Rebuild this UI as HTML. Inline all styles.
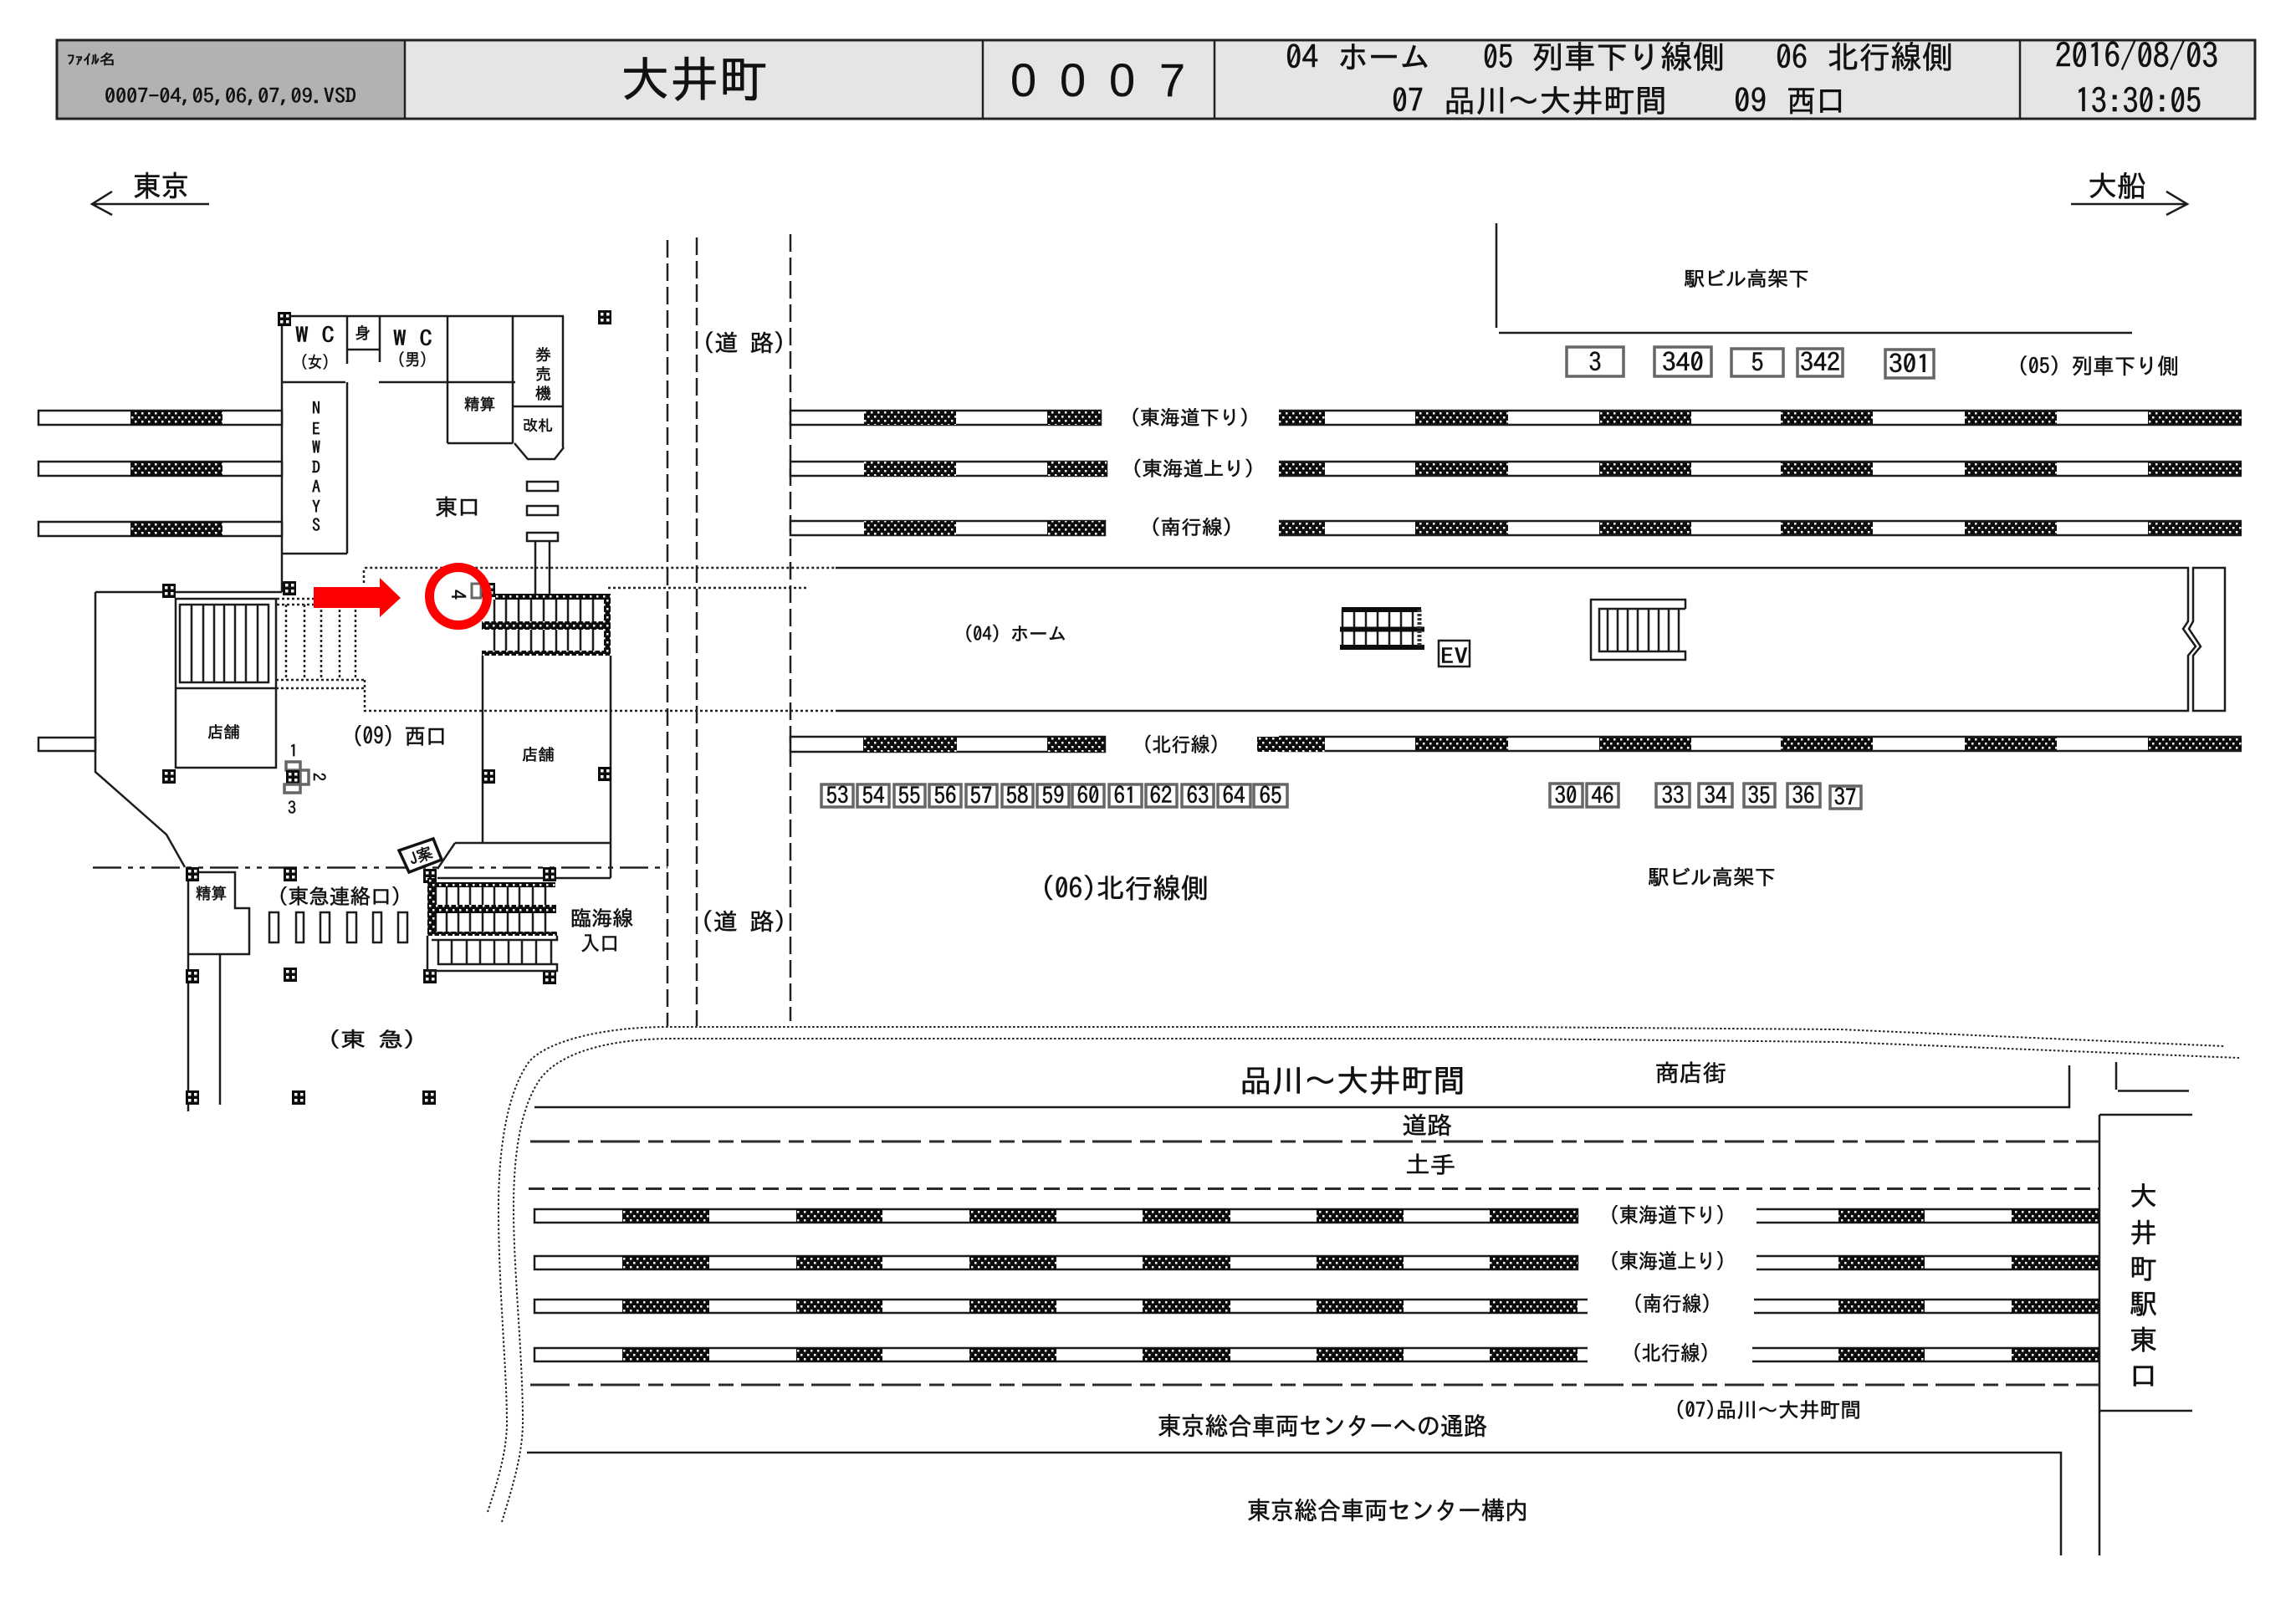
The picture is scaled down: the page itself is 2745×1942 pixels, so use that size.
<!DOCTYPE html>
<html lang="ja"><head><meta charset="utf-8"><title>大井町 0007</title>
<style>
html,body{margin:0;padding:0;background:#fff}
svg{display:block}
text{font-family:"IPAGothic","Liberation Sans","Noto Sans CJK JP",sans-serif;fill:#111;stroke:#111;stroke-width:.55}
.l{fill:none;stroke:#1c1c1c;stroke-width:2.5}
.w{fill:#fff;stroke:#1c1c1c;stroke-width:2.5}
.g{fill:#fff;stroke:#666;stroke-width:3.5}
.d{fill:none;stroke:#222;stroke-width:2.5;stroke-dasharray:3 3}
.c{fill:none;stroke:#222;stroke-width:2;stroke-dasharray:2.5 2.5}
.r{fill:none;stroke:#222;stroke-width:2.5;stroke-dasharray:21 7}
.ls{fill:none;stroke:#2a2a2a;stroke-width:3;stroke-dasharray:47 10 18 9}
.sd{fill:none;stroke:#2a2a2a;stroke-width:3;stroke-dasharray:19 9}
.dd{fill:none;stroke:#222;stroke-width:2.5;stroke-dasharray:34 8 6 8 6 8}
.h{fill:url(#hp)}
</style></head><body>
<svg xmlns="http://www.w3.org/2000/svg" width="2745" height="1942" viewBox="0 0 2745 1942">
<defs>
<pattern id="hp" width="8" height="10" patternUnits="userSpaceOnUse"><rect width="8" height="10" fill="#0c0c0c"/><rect x="1" y="2" width="2.5" height="2.5" fill="#fff"/><rect x="5" y="7" width="2.5" height="2.5" fill="#fff"/></pattern>
<g id="c"><rect width="16" height="17" fill="#0c0c0c"/><rect x="3" y="3" width="3.5" height="3.5" fill="#fff"/><rect x="10" y="3" width="3.5" height="3.5" fill="#fff"/><rect x="3" y="10" width="3.5" height="3.5" fill="#fff"/><rect x="10" y="10" width="3.5" height="3.5" fill="#fff"/></g>
<g id="tl"><rect x="46" y="0" width="291" height="17" class="w"/><rect x="156" y="0" width="110" height="17" class="h"/></g>
<g id="tr"><path class="h" d="M1529 0h55v17h-55zM1692 0h111v17h-111zM1912 0h110v17h-110zM2129 0h110v17h-110zM2349 0h110v17h-110zM2568 0h112v17h-112z"/><path class="l" d="M1529 0H2680M1529 17H2680"/></g>
<g id="lt"><rect x="639" y="0" width="1247" height="16" class="w"/><path class="h" d="M744 0h104v16h-104zM952 0h103v16h-103zM1159 0h104v16h-104zM1366 0h105v16h-105zM1574 0h104v16h-104zM1781 0h105v16h-105z"/></g>
<g id="rt"><path class="l" d="M2100 0H2510M2100 16H2510"/><path class="h" d="M2198 0h103v16h-103zM2405 0h104v16h-104z"/></g>
</defs>
<rect width="2745" height="1942" fill="#fff"/>

<!-- header -->
<rect x="68" y="48" width="416" height="94" fill="#b2b2b2"/>
<rect x="484" y="48" width="2212" height="94" fill="#e5e5e5"/>
<path d="M68 48H2696V142H68Z" fill="none" stroke="#222" stroke-width="3"/>
<path d="M484 48V142M1175 48V142M1452 48V142M2415 48V142" stroke="#222" stroke-width="2.5"/>
<text x="80" y="77" font-size="17" textLength="58" lengthAdjust="spacingAndGlyphs">ﾌｧｲﾙ名</text>
<text x="125" y="123" font-size="24" textLength="301" lengthAdjust="spacingAndGlyphs">0007-04,05,06,07,09.VSD</text>
<text x="742" y="116" font-size="59" textLength="176" lengthAdjust="spacingAndGlyphs" stroke-width="1">大井町</text>
<text x="1208 1267 1326 1386" y="115" font-size="56" style="font-family:'Liberation Sans',sans-serif;stroke-width:.2">0007</text>
<text x="1537" y="82" font-size="38" textLength="39" lengthAdjust="spacingAndGlyphs">04</text>
<text x="1599" y="82" font-size="38" textLength="111" lengthAdjust="spacingAndGlyphs">ホーム</text>
<text x="1773" y="82" font-size="38" textLength="36" lengthAdjust="spacingAndGlyphs">05</text>
<text x="1831" y="82" font-size="38" textLength="231" lengthAdjust="spacingAndGlyphs">列車下り線側</text>
<text x="2123" y="82" font-size="38" textLength="38" lengthAdjust="spacingAndGlyphs">06</text>
<text x="2185" y="82" font-size="38" textLength="150" lengthAdjust="spacingAndGlyphs">北行線側</text>
<text x="1664" y="134" font-size="38" textLength="38" lengthAdjust="spacingAndGlyphs">07</text>
<text x="1726" y="134" font-size="38" textLength="267" lengthAdjust="spacingAndGlyphs">品川～大井町間</text>
<text x="2073" y="134" font-size="38" textLength="39" lengthAdjust="spacingAndGlyphs">09</text>
<text x="2136" y="134" font-size="38" textLength="70" lengthAdjust="spacingAndGlyphs">西口</text>
<text x="2457" y="81" font-size="40" textLength="195" lengthAdjust="spacingAndGlyphs">2016/08/03</text>
<text x="2481" y="135" font-size="40" textLength="151" lengthAdjust="spacingAndGlyphs">13:30:05</text>

<!-- direction arrows -->
<path class="l" d="M250 244H110M134 229L110 244L134 257"/>
<path class="l" d="M2476 244H2615M2590 229L2615 244L2590 257"/>
<text x="159" y="235" font-size="35" textLength="67" lengthAdjust="spacingAndGlyphs">東京</text>
<text x="2496" y="235" font-size="35" textLength="70" lengthAdjust="spacingAndGlyphs">大船</text>

<!-- road dashes -->
<path class="r" d="M798 287V1227M833 284V1227M945 280V1221"/>
<text x="840" y="420" font-size="28" textLength="99" lengthAdjust="spacingAndGlyphs">(道 路)</text>
<text x="838" y="1112" font-size="28" textLength="102" lengthAdjust="spacingAndGlyphs">(道 路)</text>

<!-- station building east -->
<path class="l" d="M337 378H674M337 378V708M415 378V435M454 378V433M415 418H454M535 378V530M613 378V530M673 378V535M337 457H413M453 457H616M415 457V662M337 662H415M613 486H673M535 530H613M615 530L631 549H663L674 535"/>
<rect x="630" y="576" width="37" height="11" class="w"/>
<rect x="630" y="605" width="37" height="11" class="w"/>
<rect x="630" y="637" width="37" height="10" class="w"/>
<path class="l" d="M640 647V710M657 647V710"/>
<use href="#c" x="332" y="373"/><use href="#c" x="715" y="371"/>
<text x="353" y="410" font-size="26" textLength="47" lengthAdjust="spacingAndGlyphs">W C</text>
<text x="359" y="440" font-size="20" textLength="35" lengthAdjust="spacingAndGlyphs">(女)</text>
<text x="424" y="405" font-size="19">身</text>
<text x="470" y="414" font-size="26" textLength="47" lengthAdjust="spacingAndGlyphs">W C</text>
<text x="475" y="437" font-size="20" textLength="36" lengthAdjust="spacingAndGlyphs">(男)</text>
<text x="640" y="431" font-size="19">券</text><text x="640" y="454" font-size="19">売</text><text x="640" y="477" font-size="19">機</text>
<text x="555" y="490" font-size="19" textLength="37" lengthAdjust="spacingAndGlyphs">精算</text>
<text x="625" y="515" font-size="18" textLength="36" lengthAdjust="spacingAndGlyphs">改札</text>
<text x="520" y="616" font-size="27" textLength="54" lengthAdjust="spacingAndGlyphs">東口</text>
<g font-size="20" text-anchor="middle"><text x="378" y="495">N</text><text x="378" y="520">E</text><text x="378" y="542">W</text><text x="378" y="566">D</text><text x="378" y="589">A</text><text x="378" y="613">Y</text><text x="378" y="635">S</text></g>

<!-- left stub tracks -->
<use href="#tl" y="491"/><use href="#tl" y="552"/><use href="#tl" y="624"/>
<rect x="46" y="882" width="68" height="16" class="w"/>

<!-- west station outline -->
<path class="l" d="M114 708H337M114 708V923L199 998L221 1037"/>
<use href="#c" x="194" y="698"/><use href="#c" x="338" y="695"/>
<path class="l" d="M210 716H330V823H210ZM210 823V918H330V823"/>
<rect x="215" y="723" width="106" height="93" class="w"/>
<path class="l" stroke-width="2" d="M229 723V816M243 723V816M256 723V816M268 723V816M281 723V816M294 723V816M308 723V816"/>
<text x="248" y="882" font-size="19" textLength="39" lengthAdjust="spacingAndGlyphs">店舗</text>
<use href="#c" x="194" y="920"/>

<!-- dotted platform/stair -->
<path class="d" d="M435 697V682Q435 679 438 679H999M436 813V850H999M727 703H964M331 716H375M331 723H375M342 723V813M364 723V813M384 723V813M406 723V813M425 723V813M330 813H436M330 823H437"/>

<!-- platform -->
<path class="l" stroke-width="3" d="M999 679H2616V743L2610 752L2625 773L2616 784V850H999"/>
<path class="l" d="M2660 679H2622V743L2617 752L2631 773L2622 784V850H2660Z"/>
<text x="1152" y="766" font-size="23" textLength="123" lengthAdjust="spacingAndGlyphs">(04) ホーム</text>
<rect x="1720" y="766" width="37" height="31" class="w"/>
<text x="1722" y="794" font-size="26" textLength="33" lengthAdjust="spacingAndGlyphs">EV</text>
<!-- middle stair -->
<path class="l" stroke-width="2" d="M1605 729V774M1619 729V774M1633 729V774M1647 729V774M1661 729V774M1675 729V774M1689 729V774"/>
<path d="M1604 729H1699M1602 752.5H1703M1602 774H1703" stroke="#0c0c0c" stroke-width="6"/>
<path d="M1697 729V774" stroke="#333" stroke-width="5" stroke-dasharray="3 2"/>
<!-- right stair -->
<path class="l" d="M2015 728V717H1902V789H2015V779H2007M2015 728H2007"/>
<path class="l" d="M2007 728H1912V779H2007M1922 728V779M1934 728V779M1946 728V779M1958 728V779M1971 728V779M1983 728V779M1995 728V779M2007 728V779"/>

<!-- store east -->
<path class="l" d="M577 784V1008M730 784V1050M544 1008H730M544 1008L523 1039M523 1050H730"/>
<text x="624" y="909" font-size="19" textLength="39" lengthAdjust="spacingAndGlyphs">店舗</text>
<use href="#c" x="576" y="920"/><use href="#c" x="715" y="917"/>

<!-- east stair -->
<use href="#c" x="576" y="697"/>
<path class="l" stroke-width="2" d="M591 717V778M605 717V778M620 717V778M635 717V778M650 717V778M665 717V778M679 717V778M694 717V778M709 717V778"/>
<path class="h" d="M592 710H730V784H576V778H722V753H576V743H722V717H592Z"/>

<!-- text + boxes 1 2 3 -->
<text x="346" y="905" font-size="20">1</text>
<rect x="342" y="911" width="17" height="10" class="g" stroke-width="3"/>
<rect x="359" y="921" width="10" height="17" class="g"/>
<use href="#c" x="342" y="921"/>
<rect x="340" y="938" width="19" height="10" class="g"/>
<text transform="rotate(90 380 929)" x="380" y="935" font-size="20" text-anchor="middle">2</text>
<text x="344" y="973" font-size="20">3</text>
<text x="421" y="890" font-size="27" textLength="113" lengthAdjust="spacingAndGlyphs">(09) 西口</text>

<!-- dash-dot boundary -->
<path class="dd" d="M111 1037.5H798"/>

<!-- seisan + tokyu -->
<path class="l" d="M225 1043H281V1086H298V1141H225M225 1037V1329M263 1141V1321"/>
<use href="#c" x="222" y="1037"/><use href="#c" x="339" y="1037"/><use href="#c" x="506" y="1039"/><use href="#c" x="649" y="1037"/>
<use href="#c" x="222" y="1159"/><use href="#c" x="339" y="1157"/><use href="#c" x="506" y="1159"/><use href="#c" x="649" y="1160"/>
<use href="#c" x="222" y="1304"/><use href="#c" x="349" y="1304"/><use href="#c" x="505" y="1304"/>
<text x="234" y="1075" font-size="19" textLength="37" lengthAdjust="spacingAndGlyphs">精算</text>
<text x="332" y="1081" font-size="25" textLength="148" lengthAdjust="spacingAndGlyphs">(東急連絡口)</text>
<g class="w"><rect x="322" y="1091" width="11" height="36"/><rect x="354" y="1091" width="9" height="36"/><rect x="383" y="1091" width="11" height="36"/><rect x="415" y="1091" width="11" height="36"/><rect x="446" y="1091" width="10" height="36"/><rect x="476" y="1091" width="11" height="36"/></g>
<text x="392" y="1252" font-size="25" textLength="105" lengthAdjust="spacingAndGlyphs">(東  急)</text>

<!-- lower stairs -->
<path class="l" stroke-width="2" d="M521 1061V1114M534 1061V1114M548 1061V1114M562 1061V1114M577 1061V1114M591 1061V1114M607 1061V1114M621 1061V1114M637 1061V1114M652 1061V1114"/>
<path class="h" d="M511 1050H521V1055H664V1061H521V1082H665V1092H521V1114H666V1119H511Z"/>
<path class="l" d="M666 1119V1124H516M511 1119V1161H666V1153H524V1124H659V1153"/>
<path class="l" stroke-width="2" d="M540 1124V1153M558 1124V1153M574 1124V1153M591 1124V1153M608 1124V1153M624 1124V1153M641 1124V1153"/>
<polygon points="477,1017 518,1003 528,1028 489,1043" fill="#fff" stroke="#111" stroke-width="3.5"/>
<text transform="rotate(-20 503 1023)" x="503" y="1030" font-size="19" text-anchor="middle">J案</text>
<text x="682" y="1107" font-size="25" textLength="75" lengthAdjust="spacingAndGlyphs">臨海線</text>
<text x="694" y="1137" font-size="25" textLength="46" lengthAdjust="spacingAndGlyphs">入口</text>

<!-- top right building -->
<path class="l" d="M1789 267V392"/><path class="l" stroke-width="3" d="M1792 398H2549"/>
<text x="2013" y="342" font-size="24" textLength="150" lengthAdjust="spacingAndGlyphs">駅ビル高架下</text>
<g class="g"><rect x="1873" y="415" width="68" height="35"/><rect x="1978" y="415" width="68" height="35"/><rect x="2070" y="417" width="62" height="33"/><rect x="2149" y="417" width="54" height="33"/><rect x="2254" y="418" width="58" height="34"/></g>
<g font-size="30" text-anchor="middle"><text x="1907" y="444">3</text><text x="2012" y="444" textLength="50" lengthAdjust="spacingAndGlyphs">340</text><text x="2101" y="444">5</text><text x="2176" y="444" textLength="48" lengthAdjust="spacingAndGlyphs">342</text><text x="2283" y="446" textLength="50" lengthAdjust="spacingAndGlyphs">301</text></g>
<text x="2412" y="447" font-size="26" textLength="193" lengthAdjust="spacingAndGlyphs">(05) 列車下り側</text>

<!-- main tracks -->
<g><rect x="945" y="491" width="371" height="17" class="w"/><rect x="1033" y="491" width="110" height="17" class="h"/><rect x="1252" y="491" width="64" height="17" class="h"/></g>
<g><rect x="945" y="552" width="378" height="17" class="w"/><rect x="1033" y="552" width="110" height="17" class="h"/><rect x="1252" y="552" width="71" height="17" class="h"/></g>
<g><rect x="945" y="623" width="376" height="17" class="w"/><rect x="1033" y="623" width="110" height="17" class="h"/><rect x="1252" y="623" width="69" height="17" class="h"/></g>
<g><rect x="945" y="881" width="376" height="18" class="w"/><rect x="1032" y="881" width="112" height="18" class="h"/><rect x="1252" y="881" width="69" height="18" class="h"/></g>
<use href="#tr" y="491"/><use href="#tr" y="552"/><use href="#tr" y="623"/><use href="#tr" y="881"/>
<rect x="1503" y="881" width="81" height="18" class="h"/>
<text x="1351" y="508" font-size="24" textLength="143" lengthAdjust="spacingAndGlyphs">(東海道下り)</text>
<text x="1353" y="569" font-size="24" textLength="147" lengthAdjust="spacingAndGlyphs">(東海道上り)</text>
<text x="1375" y="639" font-size="24" textLength="99" lengthAdjust="spacingAndGlyphs">(南行線)</text>
<text x="1366" y="899" font-size="24" textLength="92" lengthAdjust="spacingAndGlyphs">(北行線)</text>

<!-- number boxes -->
<g class="g"><rect x="982" y="938" width="38" height="27"/><rect x="1025" y="938" width="38" height="27"/><rect x="1069" y="938" width="37" height="27"/><rect x="1111" y="938" width="38" height="27"/><rect x="1155" y="938" width="37" height="27"/><rect x="1198" y="938" width="37" height="27"/><rect x="1240" y="938" width="38" height="27"/><rect x="1282" y="938" width="38" height="27"/><rect x="1326" y="938" width="39" height="27"/><rect x="1370" y="938" width="37" height="27"/><rect x="1413" y="938" width="38" height="27"/><rect x="1456" y="938" width="39" height="27"/><rect x="1499" y="938" width="40" height="27"/>
<rect x="1853" y="937" width="39" height="28"/><rect x="1897" y="937" width="38" height="28"/><rect x="1980" y="937" width="40" height="28"/><rect x="2031" y="937" width="40" height="28"/><rect x="2085" y="937" width="37" height="28"/><rect x="2137" y="937" width="39" height="28"/><rect x="2188" y="940" width="37" height="27"/></g>
<g font-size="27" text-anchor="middle"><text x="1001" y="961">53</text><text x="1044" y="961">54</text><text x="1087" y="961">55</text><text x="1130" y="961">56</text><text x="1173" y="961">57</text><text x="1216" y="961">58</text><text x="1259" y="961">59</text><text x="1301" y="961">60</text><text x="1345" y="961">61</text><text x="1388" y="961">62</text><text x="1432" y="961">63</text><text x="1475" y="961">64</text><text x="1519" y="961">65</text>
<text x="1872" y="961">30</text><text x="1916" y="961">46</text><text x="2000" y="961">33</text><text x="2051" y="961">34</text><text x="2103" y="961">35</text><text x="2156" y="961">36</text><text x="2206" y="963">37</text></g>
<text x="1970" y="1058" font-size="25" textLength="153" lengthAdjust="spacingAndGlyphs">駅ビル高架下</text>
<text x="1244" y="1074" font-size="33" textLength="201" lengthAdjust="spacingAndGlyphs">(06)北行線側</text>

<!-- red marker -->
<path d="M375 702H454V691L479 715L454 738V727H375Z" fill="#f00"/>
<rect x="564" y="698" width="11" height="17" fill="#fff" stroke="#666" stroke-width="3"/>
<text transform="rotate(90 547 711)" x="547" y="719" font-size="24" text-anchor="middle">4</text>
<circle cx="548" cy="713" r="34.5" fill="none" stroke="#f00" stroke-width="11"/>

<!-- lower area: dotted curves -->
<path class="c" d="M583 1808C592 1780 606 1740 606 1700C606 1640 596 1540 596 1445C596 1360 610 1300 633 1269C655 1245 720 1228 799 1228H1800L2200 1231L2659 1251"/>
<path class="c" d="M600 1820C612 1780 625 1740 625 1700C625 1620 614 1520 614 1445C614 1370 625 1320 646 1290C670 1258 730 1242 805 1242H1800L2200 1246L2677 1265"/>

<path class="l" stroke-width="3" d="M639 1324H2474V1274"/>
<path class="l" d="M2530 1270V1303"/><path class="l" d="M2532 1304.5H2617"/>
<path class="l" d="M2510 1333V1860M2510 1333H2621M2510 1687H2621"/>
<path class="ls" d="M634 1365H2510M634 1656H2510"/>
<path class="sd" d="M632 1421.5H2510"/>
<path class="l" stroke-width="3" d="M630 1737H2464V1860"/>

<use href="#lt" y="1446"/><use href="#lt" y="1502"/><use href="#lt" y="1554"/><use href="#lt" y="1612"/>
<rect x="1886" y="1552" width="14" height="20" fill="#fff"/><rect x="1886" y="1610" width="14" height="20" fill="#fff"/>
<path class="l" d="M1886 1554H1898M1886 1570H1898M1886 1612H1898M1886 1628H1898"/>
<use href="#rt" y="1446"/><use href="#rt" y="1502"/><use href="#rt" y="1554"/><use href="#rt" y="1612"/>
<path class="l" d="M2097 1554H2100M2097 1570H2100M2095 1612H2100M2095 1628H2100"/>

<text x="1482" y="1306" font-size="38" textLength="270" lengthAdjust="spacingAndGlyphs" stroke-width=".9">品川～大井町間</text>
<text x="1979" y="1293" font-size="28" textLength="85" lengthAdjust="spacingAndGlyphs">商店街</text>
<text x="1676" y="1356" font-size="29" textLength="60" lengthAdjust="spacingAndGlyphs">道路</text>
<text x="1680" y="1403" font-size="29" textLength="60" lengthAdjust="spacingAndGlyphs">土手</text>
<text x="1924" y="1462" font-size="25" textLength="139" lengthAdjust="spacingAndGlyphs">(東海道下り)</text>
<text x="1924" y="1517" font-size="25" textLength="139" lengthAdjust="spacingAndGlyphs">(東海道上り)</text>
<text x="1952" y="1568" font-size="25" textLength="94" lengthAdjust="spacingAndGlyphs">(南行線)</text>
<text x="1951" y="1627" font-size="25" textLength="93" lengthAdjust="spacingAndGlyphs">(北行線)</text>
<text x="2002" y="1695" font-size="25" textLength="223" lengthAdjust="spacingAndGlyphs">(07)品川～大井町間</text>
<text x="1384" y="1716" font-size="30" textLength="394" lengthAdjust="spacingAndGlyphs">東京総合車両センターへの通路</text>
<text x="1491" y="1817" font-size="30" textLength="336" lengthAdjust="spacingAndGlyphs">東京総合車両センター構内</text>
<g font-size="33"><text x="2546" y="1442">大</text><text x="2546" y="1486">井</text><text x="2546" y="1529">町</text><text x="2546" y="1571">駅</text><text x="2546" y="1614">東</text><text x="2546" y="1657">口</text></g>
</svg>
</body></html>
